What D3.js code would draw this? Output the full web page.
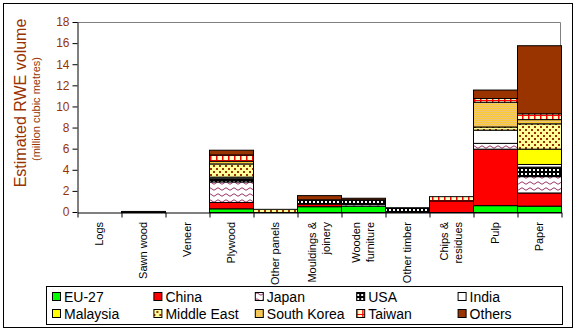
<!DOCTYPE html>
<html>
<head>
<meta charset="utf-8">
<script src="https://cdn.jsdelivr.net/npm/d3@7"></script>
<style>
  html, body { margin: 0; padding: 0; background: #fff; }
  svg { display: block; font-family: "Liberation Sans", Arial, sans-serif; }
</style>
</head>
<body>
<svg id="chart" width="577" height="332"></svg>
<script>
// Product categories ("\n" marks a line break in the axis label)
const categories = ["Logs", "Sawn wood", "Veneer", "Plywood", "Other panels",
  "Mouldings &\njoinery", "Wooden\nfurniture", "Other timber", "Chips &\nresidues", "Pulp", "Paper"];

// Estimated RWE volume by origin (million cubic metres), one value per category
const eu27       = [0, 0,    0, 0.35, 0,    0.55, 0.60, 0,    0,    0.65, 0.60];
const china      = [0, 0,    0, 0.60, 0,    0.25, 0,    0,    1.10, 5.35, 1.25];
const japan      = [0, 0,    0, 1.95, 0,    0,    0.15, 0,    0,    0.55, 1.55];
const usa        = [0, 0,    0, 0.30, 0,    0.40, 0.45, 0.45, 0,    0,    0.90];
const india      = [0, 0,    0, 0.15, 0,    0,    0,    0,    0,    1.25, 0.25];
const malaysia   = [0, 0,    0, 0,    0,    0,    0,    0,    0,    0,    1.45];
const middleEast = [0, 0,    0, 1.25, 0.30, 0,    0,    0,    0,    0.30, 2.40];
const southKorea = [0, 0,    0, 0.25, 0,    0,    0,    0,    0,    2.35, 0.40];
const taiwan     = [0, 0,    0, 0.60, 0,    0,    0,    0,    0.40, 0.35, 0.55];
const others     = [0, 0.10, 0, 0.45, 0,    0.40, 0.15, 0,    0,    0.80, 6.45];

const seriesNames = ["EU-27", "China", "Japan", "USA", "India",
  "Malaysia", "Middle East", "South Korea", "Taiwan", "Others"];
const seriesValues = [eu27, china, japan, usa, india, malaysia, middleEast, southKorea, taiwan, others];

const yTicks = [0, 2, 4, 6, 8, 10, 12, 14, 16, 18];

const svg = d3.select("#chart");
const defs = svg.append("defs");

// ---- fill patterns -------------------------------------------------------
function pattern(id, w, h, draw) {
  const p = defs.append("pattern").attr("id", id)
    .attr("patternUnits", "userSpaceOnUse").attr("width", w).attr("height", h);
  draw(p);
}
pattern("pJapan", 8, 6, p => {
  p.append("rect").attr("width", 8).attr("height", 6).attr("fill", "#fff");
  p.append("path").attr("d", "M0,3 q2,-2.5 4,0 t4,0").attr("fill", "none")
    .attr("stroke", "#993366").attr("stroke-width", 1);
});
pattern("pUSA", 4, 4, p => {
  p.append("rect").attr("width", 4).attr("height", 4).attr("fill", "#000");
  p.append("rect").attr("x", 1).attr("y", 1).attr("width", 2).attr("height", 2).attr("fill", "#fff");
});
pattern("pMiddleEast", 6, 6, p => {
  p.append("rect").attr("width", 6).attr("height", 6).attr("fill", "#ffff99");
  p.append("rect").attr("x", 0).attr("y", 0).attr("width", 2).attr("height", 2).attr("fill", "#993300");
  p.append("rect").attr("x", 3).attr("y", 3).attr("width", 2).attr("height", 2).attr("fill", "#993300");
});
pattern("pSouthKorea", 2, 2, p => {
  p.append("rect").attr("width", 2).attr("height", 2).attr("fill", "#e8c27a");
  p.append("rect").attr("width", 1).attr("height", 1).attr("fill", "#ffcc33");
  p.append("rect").attr("x", 1).attr("y", 1).attr("width", 1).attr("height", 1).attr("fill", "#ffcc33");
});
pattern("pTaiwan", 6, 5, p => {
  p.append("rect").attr("width", 6).attr("height", 5).attr("fill", "#ffffcc");
  p.append("rect").attr("width", 6).attr("height", 1).attr("fill", "#ff0000");
  p.append("rect").attr("width", 1.5).attr("height", 5).attr("fill", "#ff0000");
});

const fills = ["#00ff00", "#ff0000", "url(#pJapan)", "url(#pUSA)", "#ffffff",
  "#ffff00", "url(#pMiddleEast)", "url(#pSouthKorea)", "url(#pTaiwan)", "#993300"];

// ---- scales ---------------------------------------------------------------
const plot = { left: 77, right: 561, top: 22, bottom: 212 };
const x = d3.scaleBand().domain(categories).range([plot.left, plot.right]).padding(0);
const xEdge = d3.scaleLinear().domain([0, categories.length]).range([plot.left, plot.right]);
const y = d3.scaleLinear().domain([0, 18]).range([plot.bottom, plot.top]);

// outer chart border
svg.append("rect").attr("x", 3.5).attr("y", 3.5).attr("width", 569).attr("height", 324)
  .attr("fill", "none").attr("stroke", "#000").attr("stroke-width", 1);

// plot frame (top and right, grey)
svg.append("path")
  .attr("d", `M${plot.left},${plot.top + 0.5}H${plot.right - 0.5}V${plot.bottom}`)
  .attr("fill", "none").attr("stroke", "#808080").attr("stroke-width", 1);

// ---- stacked bars ---------------------------------------------------------
const rows = categories.map((c, i) => {
  const r = { category: c };
  seriesNames.forEach((s, k) => r[s] = seriesValues[k][i]);
  return r;
});
const stack = d3.stack().keys(seriesNames)(rows);

svg.append("g").selectAll("g").data(stack).join("g")
  .attr("fill", (d, k) => fills[k])
  .selectAll("rect").data(d => d.filter(v => v[1] - v[0] > 0)).join("rect")
  .attr("x", d => x(d.data.category) + 0.5)
  .attr("width", x.bandwidth())
  .attr("y", d => y(d[1]) + 0.5)
  .attr("height", d => Math.max(0.5, y(d[0]) - y(d[1])))
  .attr("stroke", "#000").attr("stroke-width", 1);

// ---- axes -------------------------------------------------------------------
const yAxis = svg.append("g").attr("transform", `translate(${plot.left + 0.5},0)`)
  .call(d3.axisLeft(y).tickValues(yTicks).tickSize(5).tickSizeOuter(0).tickPadding(3));
yAxis.select(".domain").attr("stroke", "#000");
yAxis.selectAll(".tick line").attr("stroke", "#000");
yAxis.selectAll(".tick text").attr("fill", "#993300")
  .style("font-family", "Liberation Sans, Arial, sans-serif").style("font-size", "12px");

const xAxis = svg.append("g").attr("transform", `translate(0.5,${plot.bottom + 0.5})`)
  .call(d3.axisBottom(xEdge).tickValues(d3.range(categories.length + 1))
    .tickFormat("").tickSize(5).tickSizeOuter(0));
xAxis.select(".domain").attr("stroke", "#000");
xAxis.selectAll(".tick line").attr("stroke", "#000");

// rotated category labels
const lab = svg.append("g").selectAll("text").data(categories).join("text")
  .attr("transform", d => `translate(${x(d) + x.bandwidth() / 2},${plot.bottom + 10}) rotate(-90)`)
  .attr("text-anchor", "end")
  .style("font-size", "11px").attr("fill", "#000");
lab.each(function (d) {
  const lines = d.split("\n");
  const t = d3.select(this);
  lines.forEach((ln, i) => {
    t.append("tspan").attr("x", 0)
      .attr("y", (i - (lines.length - 1) / 2) * 14)
      .attr("dy", "0.35em").text(ln);
  });
});

// y axis title
svg.append("text")
  .attr("transform", `translate(26,103) rotate(-90)`)
  .attr("text-anchor", "middle").attr("fill", "#993300")
  .style("font-size", "16px").text("Estimated RWE volume");
svg.append("text")
  .attr("transform", `translate(40,109) rotate(-90)`)
  .attr("text-anchor", "middle").attr("fill", "#993300")
  .style("font-size", "11px").text("(million cubic metres)");

// ---- legend -----------------------------------------------------------------
const legend = svg.append("g");
legend.append("rect").attr("x", 46.5).attr("y", 286.5).attr("width", 516).attr("height", 38)
  .attr("fill", "#fff").attr("stroke", "#000").attr("stroke-width", 1);
const colX = d3.scaleLinear().domain([0, 5]).range([52, 559]);
const item = legend.selectAll("g.item").data(seriesNames).join("g")
  .attr("class", "item")
  .attr("transform", (d, i) => `translate(${colX(i % 5)},${i < 5 ? 297 : 314})`);
item.append("rect").attr("x", 0.5).attr("y", -4.5).attr("width", 8).attr("height", 8)
  .attr("fill", (d, i) => fills[i]).attr("stroke", "#000").attr("stroke-width", 1);
item.append("text").attr("x", 12).attr("y", 0).attr("dy", "0.36em")
  .style("font-size", "14px").attr("fill", "#000").text(d => d);
</script>
</body>
</html>
